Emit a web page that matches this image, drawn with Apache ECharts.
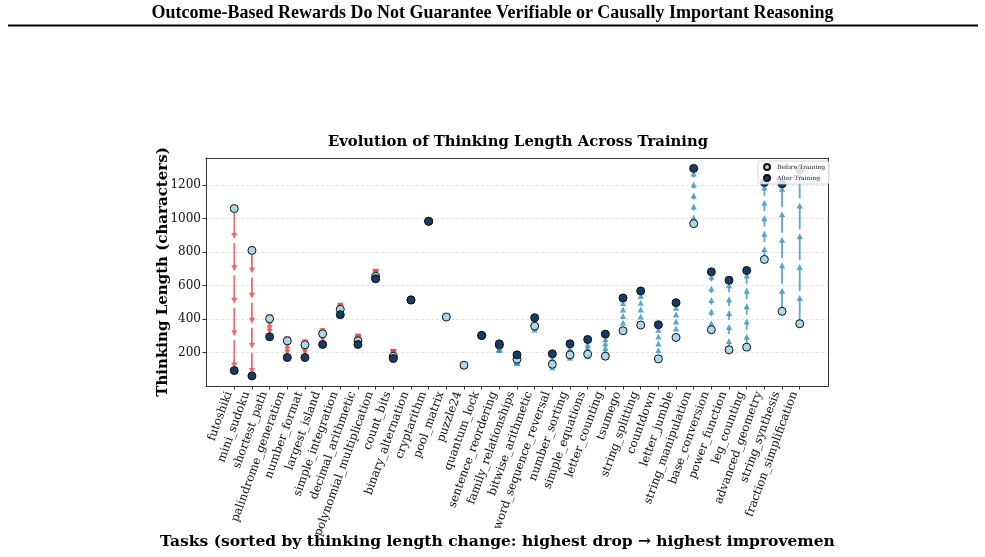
<!DOCTYPE html>
<html>
<head>
<meta charset="utf-8">
<script src="https://cdn.jsdelivr.net/npm/echarts@6/dist/echarts.min.js"></script>
<style>html,body{margin:0;padding:0;background:#fff;}#c{width:985px;height:557px;}</style>
</head>
<body>
<div id="c"></div>
<script>
const tasks = ["futoshiki","mini_sudoku","shortest_path","palindrome_generation","number_format","largest_island","simple_integration","decimal_arithmetic","polynomial_multiplication","count_bits","binary_alternation","cryptarithm","pool_matrix","puzzle24","quantum_lock","sentence_reordering","family_relationships","bitwise_arithmetic","word_sequence_reversal","number_sorting","simple_equations","letter_counting","tsumego","string_splitting","countdown","letter_jumble","string_manipulation","base_conversion","power_function","leg_counting","advanced_geometry","string_synthesis","fraction_simplification"];
const beforeTraining = [1060,810,402,270,246,312,458,270,655,178,514,984,412,124,302,244,160,358,130,186,190,178,330,364,162,290,970,336,216,232,756,446,372];
const afterTraining  = [92,60,294,170,170,248,426,248,640,164,514,984,null,null,302,252,186,408,192,252,278,310,526,568,366,498,1300,682,632,690,1216,1208,1292];
const yTickValues = [200,400,600,800,1000,1200];

const SERIF = "'DejaVu Serif', serif";
const idx = tasks.map((t, i) => i);
const X_MIN = -1.6, X_MAX = 33.6, Y_MIN = 0, Y_MAX = 1362;

const arrowData = idx.filter(i => beforeTraining[i] != null && afterTraining[i] != null && beforeTraining[i] !== afterTraining[i])
  .map(i => [i, beforeTraining[i], afterTraining[i]]);

function renderArrow(params, api) {
  const i = api.value(0), b = api.value(1), a = api.value(2);
  const p0 = api.coord([i, b]), p1 = api.coord([i, a]);
  const x = p0[0];
  const dy = p1[1] - p0[1];
  const dir = dy > 0 ? 1 : -1;
  const color = a < b ? 'rgba(222,78,78,0.8)' : 'rgba(58,146,192,0.82)';
  const shrink = 2, headLen = 6, hw = 3.1;
  const children = [];
  for (let k = 0; k < 5; k++) {
    const s = p0[1] + dy * k / 5;
    const e = p0[1] + dy * (k + 1) / 5;
    const tip = e - dir * shrink;
    const base = tip - dir * headLen;
    const start = s + dir * shrink;
    if ((base - start) * dir > 0) {
      children.push({type: 'line', shape: {x1: x, y1: start, x2: x, y2: base + dir * 1},
        style: {stroke: color, lineWidth: 1.8}});
    }
    children.push({type: 'polygon', shape: {points: [[x, tip], [x - hw, base], [x + hw, base]]},
      style: {fill: color, stroke: null}});
  }
  return {type: 'group', children};
}

const chart = echarts.init(document.getElementById('c'), null, {renderer: 'canvas'});
chart.setOption({
  animation: false,
  backgroundColor: '#fff',
  grid: {left: 206, right: 157, top: 158, bottom: 171},
  xAxis: [{
    type: 'value', min: X_MIN, max: X_MAX,
    axisLine: {show: true, onZero: false, lineStyle: {color: '#333', width: 1}},
    axisTick: {show: true, customValues: idx, length: 3.5, lineStyle: {color: '#333'}},
    axisLabel: {show: true, customValues: idx.map(i => i - 0.3), rotate: 70, margin: 6, fontFamily: SERIF, fontSize: 11.7, color: '#111',
      formatter: v => tasks[Math.round(v)] || ''},
    splitLine: {show: false}
  }, {
    type: 'value', position: 'top', min: X_MIN, max: X_MAX,
    axisLine: {show: true, onZero: false, lineStyle: {color: '#333', width: 1}},
    axisTick: {show: false}, axisLabel: {show: false}, splitLine: {show: false}
  }],
  yAxis: [{
    type: 'value', min: Y_MIN, max: Y_MAX, interval: 200,
    axisLine: {show: true, onZero: false, lineStyle: {color: '#333', width: 1}},
    axisTick: {show: true, customValues: yTickValues, length: 3.5, lineStyle: {color: '#333'}},
    axisLabel: {customValues: yTickValues, fontFamily: SERIF, fontSize: 12, color: '#111', margin: 5,
      formatter: v => String(Math.round(v))},
    splitLine: {show: true, lineStyle: {color: '#e0e0e0', type: [3, 2], width: 0.8}}
  }, {
    type: 'value', position: 'right', min: Y_MIN, max: Y_MAX,
    axisLine: {show: true, onZero: false, lineStyle: {color: '#333', width: 1}},
    axisTick: {show: false}, axisLabel: {show: false}, splitLine: {show: false}
  }],
  legend: {
    orient: 'vertical', right: 156, top: 161,
    itemWidth: 6, itemHeight: 6, itemGap: 3, icon: 'circle',
    textStyle: {fontFamily: SERIF, fontSize: 6, color: '#222', padding: [0, 0, 0, 2]},
    backgroundColor: 'rgba(255,255,255,0.85)', borderColor: '#ccc', borderWidth: 0.8, borderRadius: 2,
    padding: [2, 4, 2, 5],
    data: ['Before Training', 'After Training'],
    z: 10
  },
  series: [
    {type: 'custom', name: 'arrows', renderItem: renderArrow, data: arrowData, z: 1, silent: true,
      encode: {x: 0, y: [1, 2]}},
    {type: 'scatter', name: 'Before Training', symbolSize: 8, z: 3,
      itemStyle: {color: '#a9d8e8', borderColor: '#111', borderWidth: 1, opacity: 1},
      data: idx.filter(i => beforeTraining[i] != null).map(i => [i, beforeTraining[i]])},
    {type: 'scatter', name: 'After Training', symbolSize: 8, z: 4,
      itemStyle: {color: '#173b64', borderColor: '#111', borderWidth: 1, opacity: 1},
      data: idx.filter(i => afterTraining[i] != null).map(i => [i, afterTraining[i]])}
  ],
  graphic: [
    {type: 'text', left: 'center', top: 4, style: {text: 'Outcome-Based Rewards Do Not Guarantee Verifiable or Causally Important Reasoning',
      fontFamily: "'Liberation Serif', 'Times New Roman', serif", fontWeight: 'bold', fontSize: 18, fill: '#000'}},
    {type: 'line', shape: {x1: 8, y1: 25.5, x2: 978, y2: 25.5}, style: {stroke: '#000', lineWidth: 2}},
    {type: 'text', x: 518, y: 142, style: {text: 'Evolution of Thinking Length Across Training', fontFamily: SERIF,
      fontWeight: 'bold', fontSize: 14.8, fill: '#000', align: 'center', verticalAlign: 'middle'}},
    {type: 'text', x: 163, y: 272, rotation: Math.PI / 2, style: {text: 'Thinking Length (characters)', fontFamily: SERIF,
      fontWeight: 'bold', fontSize: 15, fill: '#000', align: 'center', verticalAlign: 'middle'}},
    {type: 'text', x: 160, y: 542, style: {text: 'Tasks (sorted by thinking length change: highest drop \u2192 highest improvemen', fontFamily: SERIF,
      fontWeight: 'bold', fontSize: 15.5, fill: '#000', align: 'left', verticalAlign: 'middle'}}
  ]
});
</script>
</body>
</html>
